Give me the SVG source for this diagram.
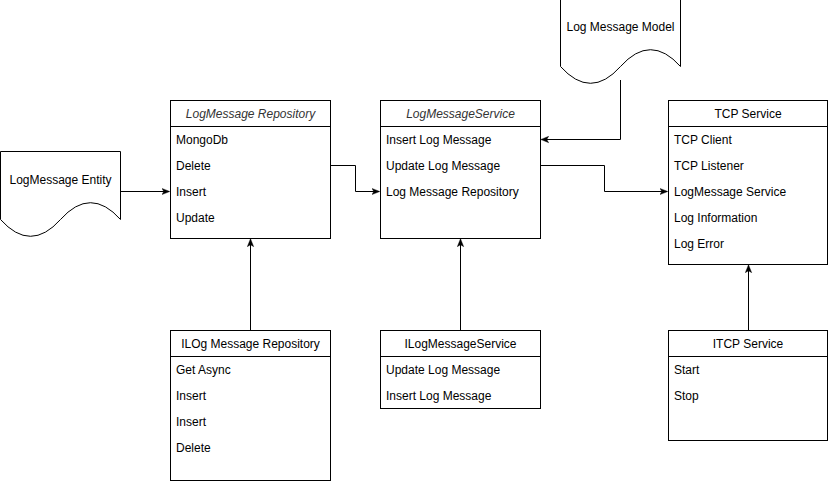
<svg xmlns="http://www.w3.org/2000/svg" width="829" height="481" viewBox="0 0 829 481">
<defs>
<style>
.box{fill:#fff;stroke:#000;stroke-width:1}
.ln{fill:none;stroke:#000;stroke-width:1}
.t{font-family:"Liberation Sans",Arial,sans-serif;font-size:12px;fill:#000}
.c{text-anchor:middle}
.i{font-style:italic;fill:#333}
.edge{fill:none;stroke:#000;stroke-width:1}
</style>
<marker id="arr" viewBox="0 0 10 10" refX="9" refY="5" markerWidth="8" markerHeight="8" markerUnits="userSpaceOnUse" orient="auto">
<path d="M0,1 L10,5 L0,9 L2.5,5 Z" fill="#000" stroke="#000" stroke-width="0.5"/>
</marker>
</defs>
<rect width="829" height="481" fill="#fff"/>

<g id="connectors">
<path class="edge" d="M120.5,191.5 H169" marker-end="url(#arr)"/>
<path class="edge" d="M330.5,165.5 H355.5 V191.5 H379" marker-end="url(#arr)"/>
<path class="edge" d="M540.5,165.5 H604.5 V191.5 H667" marker-end="url(#arr)"/>
<path class="edge" d="M620.5,80 V139.5 H541.5" marker-end="url(#arr)"/>
<path class="edge" d="M250.5,330.5 V239.5" marker-end="url(#arr)"/>
<path class="edge" d="M460.5,330.5 V239.5" marker-end="url(#arr)"/>
<path class="edge" d="M748.5,330.5 V265.5" marker-end="url(#arr)"/>
</g>

<g id="logmessage-entity">
<path class="box" d="M0.5,151.5 H120.5 V219.5 Q90.5,185.9 60.5,219.5 T0.5,219.5 Z"/>
<text class="t c" x="60.5" y="184">LogMessage Entity</text>
</g>

<g id="log-message-model">
<path class="box" d="M560.5,-1.5 H680.5 V66.5 Q650.5,32.9 620.5,66.5 T560.5,66.5 Z"/>
<text class="t c" x="620.5" y="31">Log Message Model</text>
</g>

<g id="logmessage-repository">
<rect class="box" x="170.5" y="100.5" width="160" height="138"/>
<line class="ln" x1="170.5" y1="126.5" x2="330.5" y2="126.5"/>
<text class="t c i" x="250.5" y="118">LogMessage Repository</text>
<text class="t" x="176" y="144">MongoDb</text>
<text class="t" x="176" y="170">Delete</text>
<text class="t" x="176" y="196">Insert</text>
<text class="t" x="176" y="222">Update</text>
</g>

<g id="logmessage-service">
<rect class="box" x="380.5" y="100.5" width="160" height="138"/>
<line class="ln" x1="380.5" y1="126.5" x2="540.5" y2="126.5"/>
<text class="t c i" x="460.5" y="118">LogMessageService</text>
<text class="t" x="386" y="144">Insert Log Message</text>
<text class="t" x="386" y="170">Update Log Message</text>
<text class="t" x="386" y="196">Log Message Repository</text>
</g>

<g id="tcp-service">
<rect class="box" x="668.5" y="100.5" width="159" height="164"/>
<line class="ln" x1="668.5" y1="126.5" x2="827.5" y2="126.5"/>
<text class="t c" x="748" y="118">TCP Service</text>
<text class="t" x="674" y="144">TCP Client</text>
<text class="t" x="674" y="170">TCP Listener</text>
<text class="t" x="674" y="196">LogMessage Service</text>
<text class="t" x="674" y="222">Log Information</text>
<text class="t" x="674" y="248">Log Error</text>
</g>

<g id="ilog-message-repository">
<rect class="box" x="170.5" y="330.5" width="160" height="150"/>
<line class="ln" x1="170.5" y1="356.5" x2="330.5" y2="356.5"/>
<text class="t c" x="250.5" y="348">ILOg Message Repository</text>
<text class="t" x="176" y="374">Get Async</text>
<text class="t" x="176" y="400">Insert</text>
<text class="t" x="176" y="426">Insert</text>
<text class="t" x="176" y="452">Delete</text>
</g>

<g id="ilogmessage-service">
<rect class="box" x="380.5" y="330.5" width="160" height="78"/>
<line class="ln" x1="380.5" y1="356.5" x2="540.5" y2="356.5"/>
<text class="t c" x="460.5" y="348">ILogMessageService</text>
<text class="t" x="386" y="374">Update Log Message</text>
<text class="t" x="386" y="400">Insert Log Message</text>
</g>

<g id="itcp-service">
<rect class="box" x="668.5" y="330.5" width="159" height="110"/>
<line class="ln" x1="668.5" y1="356.5" x2="827.5" y2="356.5"/>
<text class="t c" x="748" y="348">ITCP Service</text>
<text class="t" x="674" y="374">Start</text>
<text class="t" x="674" y="400">Stop</text>
</g>
</svg>
